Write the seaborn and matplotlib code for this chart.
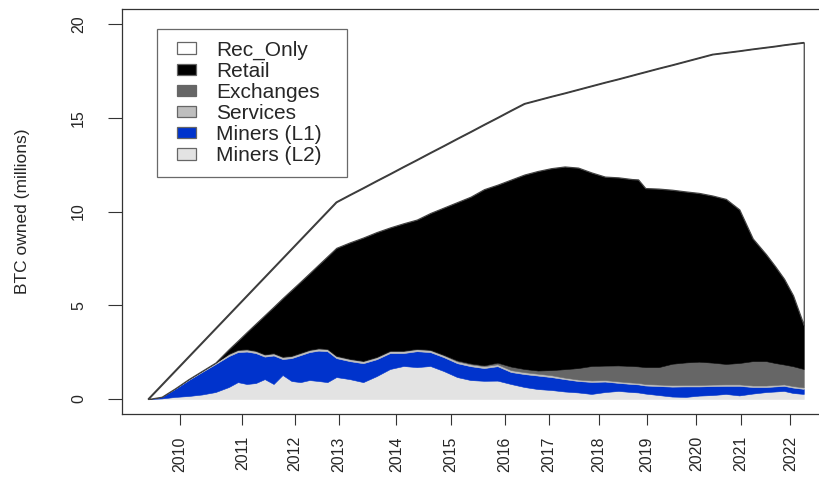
import matplotlib
matplotlib.use("Agg")
import matplotlib.pyplot as plt
from matplotlib.patches import Rectangle
from matplotlib.legend_handler import HandlerPatch
import numpy as np
import pandas as pd
import seaborn as sns


# x axis is block height (thousands of blocks), values in millions of BTC
block_height_k = [0, 15, 30, 45, 60, 75, 90, 100, 110, 120, 130, 140, 150, 160, 170, 180,
                  190, 200, 210, 225, 240, 255, 270, 285, 300, 315, 330, 345, 360, 375,
                  390, 405, 420, 435, 450, 465, 480, 495, 510, 525, 540, 547, 555, 570,
                  585, 600, 615, 630, 645, 660, 675, 690, 700, 710, 720, 732]

miners_l2 = [0, 0.03, 0.11, 0.16, 0.24, 0.37, 0.64, 0.90, 0.80, 0.85, 1.06, 0.80, 1.28, 0.96,
             0.90, 1.01, 0.96, 0.90, 1.17, 1.06, 0.90, 1.22, 1.60, 1.76, 1.70, 1.76, 1.49,
             1.17, 1.01, 0.97, 0.98, 0.80, 0.64, 0.53, 0.48, 0.40, 0.35, 0.27, 0.37, 0.43,
             0.37, 0.35, 0.29, 0.21, 0.13, 0.11, 0.18, 0.21, 0.27, 0.19, 0.29, 0.37, 0.40,
             0.43, 0.32, 0.27]

miners_l1 = [0, 0.08, 0.43, 0.85, 1.20, 1.49, 1.65, 1.60, 1.73, 1.60, 1.20, 1.52, 0.85, 1.22,
             1.44, 1.49, 1.62, 1.65, 1.01, 0.96, 1.01, 0.90, 0.85, 0.69, 0.85, 0.74, 0.74,
             0.74, 0.74, 0.68, 0.77, 0.64, 0.69, 0.72, 0.69, 0.66, 0.61, 0.64, 0.56, 0.43,
             0.43, 0.43, 0.43, 0.48, 0.53, 0.56, 0.49, 0.48, 0.43, 0.51, 0.35, 0.27, 0.27,
             0.27, 0.29, 0.27]

services = [0, 0.01, 0.03, 0.05, 0.06, 0.08, 0.10, 0.10, 0.10, 0.10, 0.10, 0.10, 0.10, 0.10,
            0.10, 0.10, 0.10, 0.10, 0.10, 0.10, 0.10, 0.10, 0.10, 0.10, 0.10, 0.10, 0.10,
            0.10, 0.10, 0.10, 0.10, 0.10, 0.10, 0.10, 0.10, 0.08, 0.08, 0.08, 0.08, 0.08,
            0.08, 0.08, 0.08, 0.08, 0.08, 0.08, 0.08, 0.08, 0.08, 0.08, 0.08, 0.08, 0.08,
            0.08, 0.08, 0.08]

exchanges = [0, 0, 0, 0, 0, 0, 0.03, 0.03, 0.03, 0.03, 0.03, 0.03, 0.03, 0.03, 0.03, 0.03,
             0.03, 0.03, 0.03, 0.03, 0.03, 0.03, 0.03, 0.03, 0.03, 0.03, 0.03, 0.05, 0.05,
             0.05, 0.09, 0.19, 0.17, 0.17, 0.27, 0.45, 0.61, 0.77, 0.77, 0.85, 0.88, 0.88,
             0.90, 0.93, 1.14, 1.20, 1.24, 1.17, 1.09, 1.14, 1.30, 1.30, 1.17, 1.06, 1.06,
             0.98]

retail = [0, 0, 0, 0, 0, 0, 0.24, 0.48, 0.91, 1.44, 2.08, 2.47, 3.12, 3.51, 3.79, 4.08, 4.45,
          4.93, 5.75, 6.20, 6.57, 6.65, 6.57, 6.79, 6.89, 7.29, 7.85, 8.44, 8.89, 9.39, 9.49,
          9.97, 10.37, 10.64, 10.77, 10.81, 10.69, 10.32, 10.08, 10.03, 9.97, 9.97, 9.55,
          9.52, 9.28, 9.12, 9.00, 8.91, 8.80, 8.19, 6.54, 5.69, 5.16, 4.57, 3.78, 2.34]

total_supply = [0, 0.75, 1.5, 2.25, 3.0, 3.75, 4.5, 5.0, 5.5, 6.0, 6.5, 7.0, 7.5, 8.0, 8.5,
                9.0, 9.5, 10.0, 10.5, 10.88, 11.25, 11.63, 12.0, 12.38, 12.75, 13.13, 13.5,
                13.88, 14.25, 14.63, 15.0, 15.38, 15.75, 15.94, 16.13, 16.31, 16.5, 16.69,
                16.88, 17.06, 17.25, 17.34, 17.44, 17.63, 17.81, 18.0, 18.19, 18.38, 18.47,
                18.56, 18.66, 18.75, 18.81, 18.88, 18.94, 19.01]

year_labels = ["2010", "2011", "2012", "2013", "2014", "2015", "2016", "2017", "2018",
               "2019", "2020", "2021", "2022"]
year_tick_height_k = [35, 105, 164, 213, 277, 338, 398, 447, 503, 557, 612, 662, 717]

layer_names = ["Miners (L2)", "Miners (L1)", "Services", "Exchanges", "Retail", "Rec_Only"]
layer_colors = ["#e3e3e3", "#0033cc", "#bebebe", "#666666", "#000000", "#ffffff"]


def legend_box(legend, orig_handle, xdescent, ydescent, width, height, fontsize):
    # small box sitting at the right part of the handle area (R-style legend fill)
    return Rectangle((-xdescent + 0.33 * width, -ydescent), 0.67 * width, height)


def main() -> None:
    df = pd.DataFrame({
        "block_height_k": block_height_k,
        "miners_l2": miners_l2,
        "miners_l1": miners_l1,
        "services": services,
        "exchanges": exchanges,
        "retail": retail,
        "total_supply": total_supply,
    })
    df["rec_only"] = df["total_supply"] - df[["miners_l2", "miners_l1", "services",
                                               "exchanges", "retail"]].sum(axis=1)
    df["rec_only"] = df["rec_only"].clip(lower=0)

    sns.set_theme(style="white")
    plt.rcParams["font.family"] = ["Liberation Sans", "DejaVu Sans"]

    fig = plt.figure(figsize=(8.19, 4.78), dpi=100)
    ax = fig.add_axes([122 / 819, 1 - 414 / 478, (830 - 122) / 819, (414 - 9) / 478])

    layers = ax.stackplot(
        df["block_height_k"],
        df["miners_l2"], df["miners_l1"], df["services"], df["exchanges"],
        df["retail"], df["rec_only"],
        colors=layer_colors,
    )
    for poly, col in zip(layers[:-1], layer_colors[:-1]):
        poly.set_edgecolor(col)
        poly.set_linewidth(0.4)
    layers[-1].set_edgecolor("#444444")
    layers[-1].set_linewidth(0.9)

    sns.lineplot(data=df, x="block_height_k", y="total_supply", color="#3a3a3a",
                 linewidth=1.0, ax=ax)

    ax.set_xlim(-29.3, 761.3)
    ax.set_ylim(-0.8, 20.8)
    ax.set_xticks(year_tick_height_k)
    ax.set_xticklabels(year_labels, rotation=90)
    ax.set_yticks([0, 5, 10, 15, 20])
    ax.set_yticklabels(["0", "5", "10", "15", "20"], rotation=90, va="center")
    ax.tick_params(axis="y", length=10, width=0.8, pad=16, labelsize=11.5,
                   direction="out", color="#333333", left=True)
    ax.tick_params(axis="x", length=8, width=0.8, pad=8, labelsize=11.5,
                   direction="out", color="#333333", bottom=True)
    ax.set_xlabel("")
    ax.set_ylabel("BTC owned (millions)", fontsize=12.5)
    ax.yaxis.set_label_coords(-0.130, 0.5)
    for spine in ax.spines.values():
        spine.set_color("#333333")
        spine.set_linewidth(0.9)
    ax.grid(False)

    handles = [
        Rectangle((0, 0), 1, 1, facecolor=c, edgecolor="#666666", linewidth=0.9)
        for c in layer_colors[::-1]
    ]
    leg = ax.legend(
        handles, layer_names[::-1],
        loc="upper left",
        bbox_to_anchor=(35 / 708, 0.5, 190 / 708, 385 / 405 - 0.5),
        mode="expand",
        borderaxespad=0,
        fontsize=15,
        frameon=True,
        fancybox=False,
        borderpad=0.55,
        labelspacing=0.1,
        handlelength=1.3,
        handleheight=0.48,
        handletextpad=1.0,
        handler_map={Rectangle: HandlerPatch(patch_func=legend_box)},
    )
    leg.get_frame().set_edgecolor("#444444")
    leg.get_frame().set_linewidth(0.9)

    fig.savefig("out.png", dpi=100)
    plt.close(fig)


if __name__ == "__main__":
    main()
